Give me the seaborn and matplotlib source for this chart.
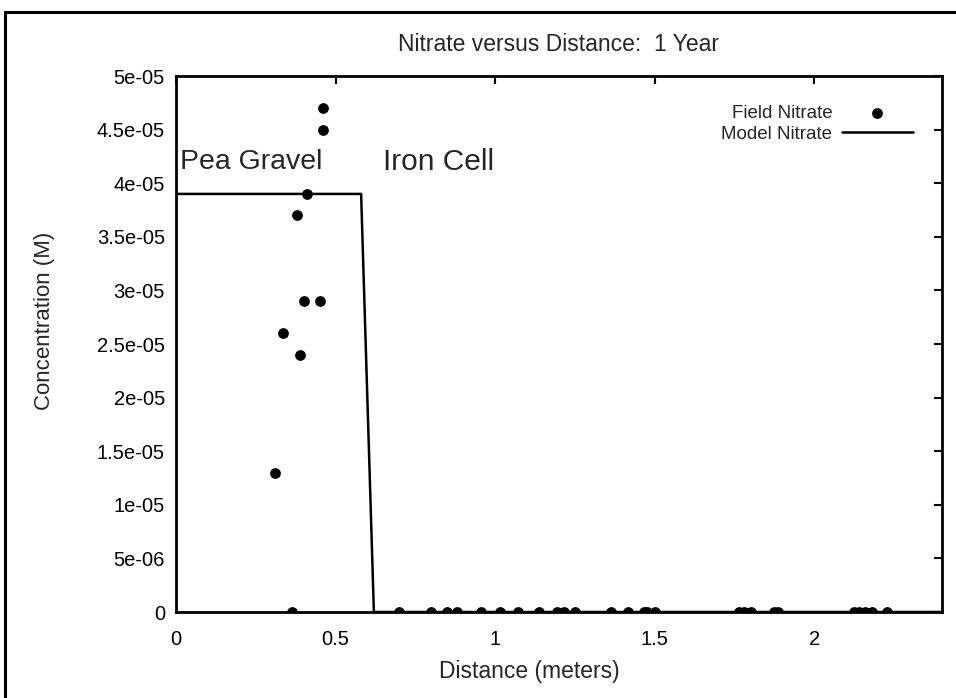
import numpy as np
import pandas as pd
import matplotlib
matplotlib.use("Agg")
import matplotlib.pyplot as plt
import seaborn as sns
from matplotlib.patches import Rectangle

# Field nitrate measurements (distance in m, concentration in M)
field_x = [0.46, 0.46, 0.41, 0.38, 0.40, 0.45, 0.335, 0.39, 0.31,
           0.363, 0.70, 0.80, 0.85, 0.88, 0.955, 1.016, 1.073, 1.136,
           1.195, 1.215, 1.25, 1.363, 1.416, 1.465, 1.475, 1.50,
           1.765, 1.78, 1.80, 1.875, 1.885, 2.125, 2.14, 2.16, 2.18, 2.228]
field_y = [4.7e-05, 4.5e-05, 3.9e-05, 3.7e-05, 2.9e-05, 2.9e-05, 2.6e-05,
           2.4e-05, 1.3e-05] + [0.0] * 27

# Model nitrate profile
model_x = [0.0, 0.58, 0.62, 2.4]
model_y = [3.9e-05, 3.9e-05, 0.0, 0.0]

x_ticks = [0, 0.5, 1, 1.5, 2]
x_ticklabels = ["0", "0.5", "1", "1.5", "2"]
y_ticks = [0, 5e-06, 1e-05, 1.5e-05, 2e-05, 2.5e-05, 3e-05, 3.5e-05, 4e-05, 4.5e-05, 5e-05]
y_ticklabels = ["0", "5e-06", "1e-05", "1.5e-05", "2e-05", "2.5e-05", "3e-05",
                "3.5e-05", "4e-05", "4.5e-05", "5e-05"]

sns.set_style("white")
plt.rcParams['font.family'] = ['Liberation Sans', 'DejaVu Sans']

fig = plt.figure(figsize=(9.56, 6.98), dpi=100)
ax = fig.add_axes([176 / 956, 86 / 698, 766 / 956, 536 / 698])

field = pd.DataFrame({"x": field_x, "y": field_y})
model = pd.DataFrame({"x": model_x, "y": model_y})

sns.lineplot(data=model, x="x", y="y", color="black", linewidth=1.8,
             sort=False, ax=ax, label="Model Nitrate", zorder=2)
sns.scatterplot(data=field, x="x", y="y", color="black", s=60, edgecolor="black",
                linewidth=0, ax=ax, label="Field Nitrate", zorder=3)

ax.set_xlim(0, 2.4)
ax.set_ylim(0, 5e-05)
ax.set_xticks(x_ticks)
ax.set_xticklabels(x_ticklabels)
ax.set_yticks(y_ticks)
ax.set_yticklabels(y_ticklabels)
ax.tick_params(direction="in", length=6, width=1.5, top=True, right=True,
               labelsize=14.5, colors="black")
ax.tick_params(axis="x", pad=13)
ax.tick_params(axis="y", pad=8)
for sp in ax.spines.values():
    sp.set_linewidth(2)
    sp.set_color("black")

ax.set_title("Nitrate versus Distance:  1 Year", fontsize=16.5, pad=18)
ax.set_xlabel("Distance (meters)", fontsize=16.5)
ax.set_ylabel("Concentration (M)", fontsize=16)
ax.xaxis.set_label_coords(0.461, -0.09)
ax.yaxis.set_label_coords(-0.158, 0.543)

ax.text(0.012, 4.2e-05, "Pea Gravel", fontsize=20.5, va="center", ha="left")
ax.text(0.65, 4.2e-05, "Iron Cell", fontsize=21.5, va="center", ha="left")

handles, labels = ax.get_legend_handles_labels()
order = [labels.index("Field Nitrate"), labels.index("Model Nitrate")]
ax.legend([handles[i] for i in order], [labels[i] for i in order],
          loc="upper right", frameon=False, markerfirst=False, fontsize=13.5,
          handlelength=3.8, handletextpad=0.5, borderaxespad=0.0,
          labelspacing=0.2, bbox_to_anchor=(0.972, 0.96))

# outer frame around the figure
fig.patches.append(Rectangle((5 / 956, -0.05), 1.2, 1 - 12 / 698 + 0.05,
                             transform=fig.transFigure, fill=False,
                             edgecolor="black", linewidth=2.2, clip_on=False))

fig.savefig("out.png", dpi=100)
